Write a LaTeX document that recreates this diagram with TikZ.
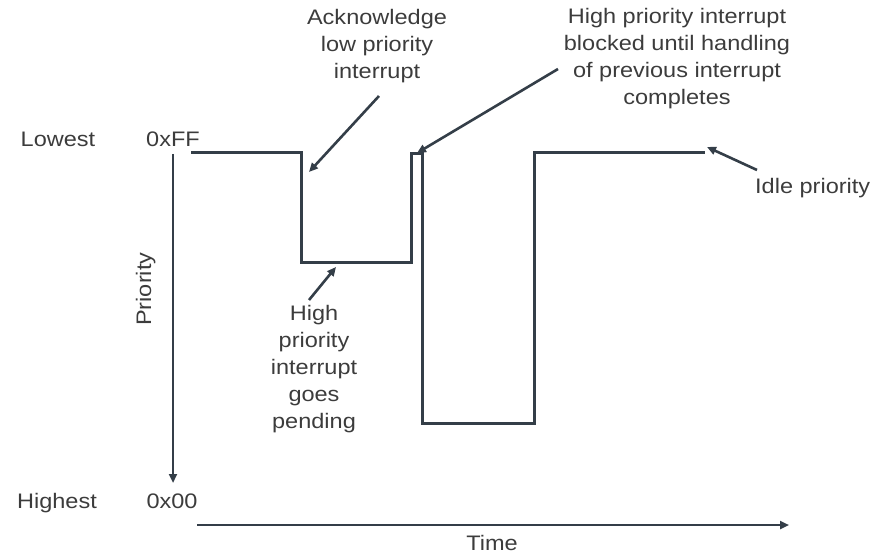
\documentclass[tikz,border=0pt]{standalone}
\usepackage{fontspec}
\setmainfont{Liberation Sans}[FakeStretch=1.12]
\usetikzlibrary{arrows.meta,positioning}
\definecolor{trace}{HTML}{343E48}
\definecolor{labelgray}{HTML}{3C3C3C}

\begin{document}
\begin{tikzpicture}[
    x=1pt, y=-1pt,
    lbl/.style={
        text=labelgray,
        font=\fontsize{21}{27}\selectfont,
        align=center,
        inner sep=0pt
    },
    wire/.style={draw=trace, line width=3pt, line join=miter},
    pointer/.style={
        draw=trace,
        line width=2.6pt,
        -{Triangle[length=9pt,width=8pt]}
    }
]
    \useasboundingbox (0,0) rectangle (881,556);

    % Axis labels
    \node[lbl, anchor=base] (lowest) at (58,147) {Lowest};
    \node[lbl, anchor=base] (ff) at (173,147) {0xFF};
    \node[lbl, anchor=base] (highest) at (57,508) {Highest};
    \node[lbl, anchor=base] (zero) at (172,508) {0x00};
    \node[lbl, anchor=base west, rotate=90] (prio) at (151,326) {Priority};
    \node[lbl, anchor=base] (time) at (492,550) {Time};

    % Priority axis (pointing down) and time axis
    \coordinate (ptop) at (173,154);
    \coordinate (pend) at (173,483);
    \draw[pointer] (ptop) -- (pend);
    \coordinate (tstart) at (197,525);
    \coordinate (tend) at (789,525);
    \draw[pointer] (tstart) -- (tend);

    % Priority level over time
    \draw[wire] (191,153) -- (301,153) -- (301,263) -- (411,263) -- (411,154)
        -- (422,154) -- (422,423) -- (534,423) -- (534,153) -- (705,153);

    % Annotations
    \node[lbl, anchor=north] (ack) at (377,9) {Acknowledge\\low priority\\interrupt};
    \node[lbl, anchor=north] (blocked) at (677,8) {High priority interrupt\\blocked until handling\\of previous interrupt\\completes};
    \node[lbl, anchor=north] (pending) at (314,305) {High\\priority\\interrupt\\goes\\pending};
    \node[lbl, anchor=base west] (idle) at (755,194) {Idle priority};

    % Annotation arrows
    \coordinate (ackfrom) at (379,96);
    \coordinate (ackto) at (309,172);
    \draw[pointer] (ackfrom) -- (ackto);
    \coordinate (blkfrom) at (558,69);
    \coordinate (blkto) at (417,153);
    \draw[pointer] (blkfrom) -- (blkto);
    \coordinate (idlefrom) at (757,170);
    \coordinate (idleto) at (707,147);
    \draw[pointer] (idlefrom) -- (idleto);
    \coordinate (pendfrom) at (309,300);
    \coordinate (pendto) at (336,267);
    \draw[pointer] (pendfrom) -- (pendto);

\end{tikzpicture}
\end{document}
